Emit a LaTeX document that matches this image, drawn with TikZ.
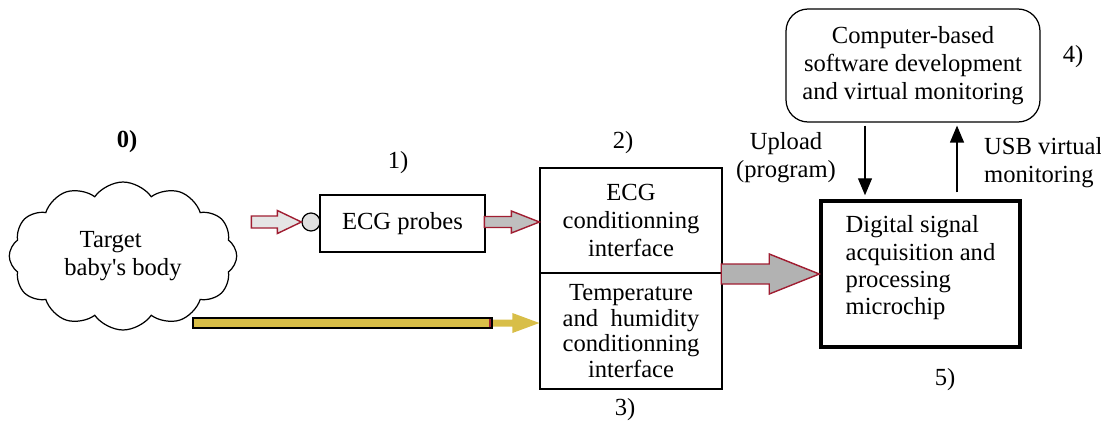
\documentclass[tikz,border=0pt]{standalone}
\usepackage{fontspec}
\setmainfont{Liberation Serif}
\usetikzlibrary{shapes.symbols,arrows.meta}
\definecolor{arrowred}{RGB}{160,30,50}
\definecolor{bargold}{RGB}{216,190,72}
\begin{document}
\begin{tikzpicture}[x=0.02cm,y=-0.02cm,font=\fontsize{14}{16}\selectfont,
    box/.style={draw,line width=0.7pt,inner sep=0pt,align=center},
    thin arrow/.style={line width=0.7pt,-{Triangle[length=0.34cm,width=0.28cm]}},
    red arrow/.style={draw=arrowred,line width=0.8pt,line join=miter}]
  \useasboundingbox (0,0) rectangle (1101,423);
  % blocks
  \node[draw,cloud,cloud puffs=12,cloud puff arc=110,cloud ignores aspect,minimum width=4.55cm,minimum height=2.96cm,line width=0.7pt,align=center] (body) at (123,256) {Target\hspace*{1em}\\baby\textquotesingle s body};
  \node[circle,draw,line width=0.7pt,fill=black!12,minimum size=0.36cm,inner sep=0pt] (probe) at (311,222) {};
  \node[box,minimum width=3.3cm,minimum height=1.14cm] (ecgprobe) at (402.5,223.5) {ECG probes};
  \node[box,minimum width=3.64cm,minimum height=2.1cm] (ecgif) at (631,220.5) {ECG\\conditionning\\interface};
  \node[box,minimum width=3.64cm,minimum height=2.32cm,font=\fontsize{14}{14.6}\selectfont] (thif) at (631,331) {Temperature\\and\ \ humidity\\conditionning\\interface};
  \node[box,line width=2pt,minimum width=3.98cm,minimum height=2.92cm,align=left,font=\fontsize{14}{15.5}\selectfont,text depth=0.35cm] (chip) at (920.5,274) {Digital signal\\acquisition and\\processing\\microchip};
  \node[box,rounded corners=0.44cm,minimum width=5.08cm,minimum height=2.26cm] (pc) at (913,65.5) {Computer-based\\software development\\and virtual monitoring};
  % labels
  \node at (127,142) {\bfseries 0)};
  \node at (398,163) {1)};
  \node at (623,143) {2)};
  \node at (625,410) {3)};
  \node at (1073,57) {4)};
  \node at (945,380) {5)};
  \node[align=center] (upload) at (786,157.5) {Upload\\(program)};
  \node[align=left,anchor=west] (usb) at (978,163) {USB virtual\\monitoring};
  % fat arrows
  \draw[red arrow,fill=black!10] (probe.west) -- ++(-24,-11.5) -- ++(0,5.5) -- ++(-26,0) -- ++(0,12) -- ++(26,0) -- ++(0,5.5) -- cycle;
  \draw[red arrow,fill=black!25] (ecgif.west |- probe) -- ++(-28,-11) -- ++(0,5.5) -- ++(-27,0) -- ++(0,11) -- ++(27,0) -- ++(0,5.5) -- cycle;
  \draw[red arrow,fill=black!30] (chip.west) -- ++(-50,-20) -- ++(0,10) -- ++(-48,0) -- ++(0,20) -- ++(48,0) -- ++(0,10) -- cycle;
  % sensor bar
  \coordinate (heat) at (193,323);
  \fill[bargold] (thif.west |- heat) -- ++(-27,-10) -- ++(0,6.5) -- ++(-21,0) -- ++(0,7) -- ++(21,0) -- ++(0,6.5) -- cycle;
  \draw[fill=bargold,line width=0.7pt] (heat) ++(0,-5) rectangle ++(299,10);
  \draw[arrowred,line width=0.8pt] (heat) ++(297,-4) -- ++(0,8);
  % usb link
  \coordinate (dn) at (865,0);
  \coordinate (up) at (957,0);
  \draw[thin arrow,shorten <=0.06cm,shorten >=0.08cm] (pc.south -| dn) -- (chip.north -| dn);
  \draw[thin arrow,shorten <=0.14cm,shorten >=0.06cm] (chip.north -| up) -- (pc.south -| up);
\end{tikzpicture}
\end{document}
